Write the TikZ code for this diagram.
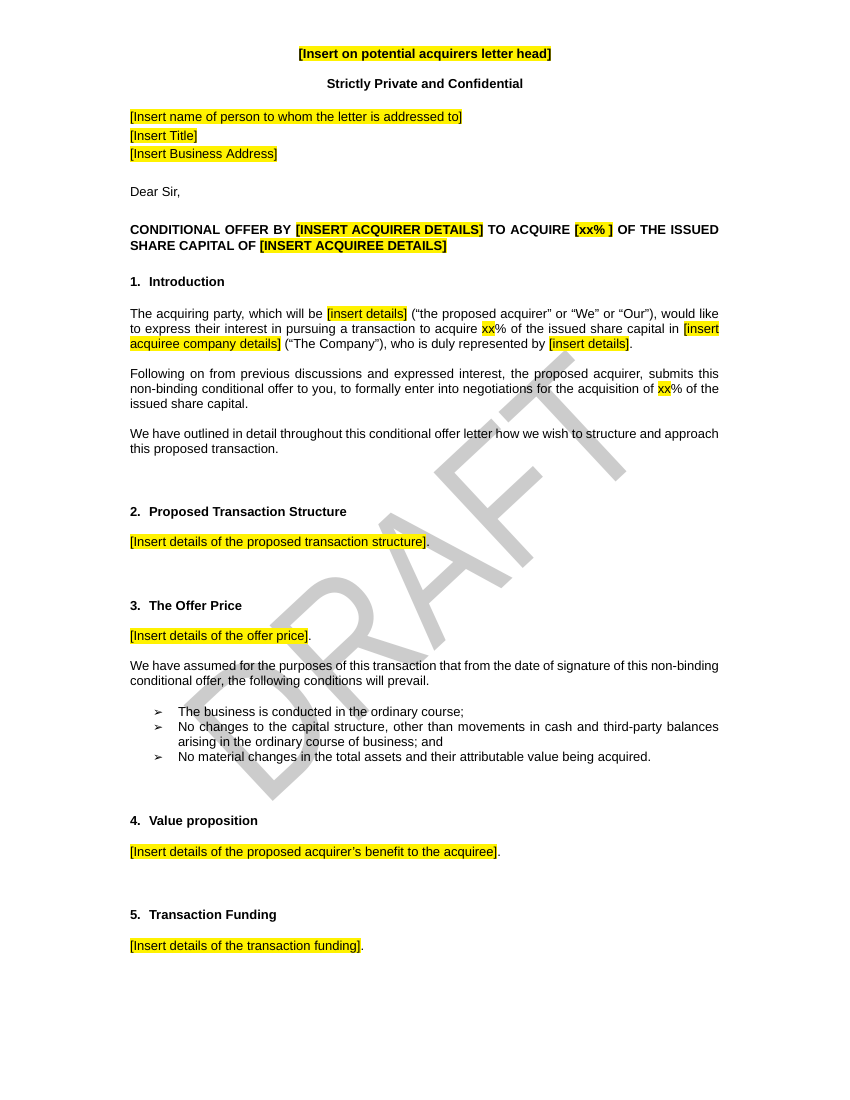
\documentclass[tikz,border=0pt]{standalone}
\usepackage{fontspec}
\setmainfont{Liberation Sans}
\newfontfamily\dejavu{DejaVu Sans}
\newcommand{\hlx}[1]{{\setlength{\fboxsep}{0pt}\colorbox{yellow}{\rule[-2.8pt]{0pt}{15.3pt}#1}}}
\newcommand{\jl}[1]{\makebox[589pt][s]{#1}}
\newcommand{\jlb}[1]{\makebox[541pt][s]{#1}}
\newcommand{\bul}{{\dejavu\fontsize{12}{12}\selectfont ➢}}
\tikzset{
  txt/.style={anchor=base west, inner sep=0pt, outer sep=0pt, font=\fontsize{13}{15}\selectfont},
  hd/.style={anchor=base west, inner sep=0pt, outer sep=0pt, font=\fontsize{13}{15}\selectfont\bfseries},
  ctr/.style={anchor=base, inner sep=0pt, outer sep=0pt, font=\fontsize{13}{15}\selectfont\bfseries},
  wmark/.style={anchor=base west, inner sep=0pt, outer sep=0pt, text=black!20, font=\fontsize{190}{190}\selectfont}
}
\begin{document}
\begin{tikzpicture}[x=1pt,y=-1pt]
\useasboundingbox (0,0) rectangle (850,1100);
\fill[white] (0,0) rectangle (850,1100);
% watermark
\node[wmark, rotate=43, xscale=0.85] (wm) at (263.9,810.5) {DRAFT};
% header
\node[ctr] (t1) at (425,58) {\hlx{[Insert on potential acquirers letter head]}};
\node[ctr] (t2) at (425,88) {Strictly Private and Confidential};
\node[txt] (a1) at (130,121) {\hlx{[Insert name of person to whom the letter is addressed to]}};
\node[txt] (a2) at (130,140) {\hlx{[Insert Title]}};
\node[txt] (a3) at (130,158.7) {\hlx{[Insert Business Address]}};
\node[txt] (dear) at (130,196.7) {Dear Sir,};
\node[hd] (c1) at (130,234.3) {\jl{CONDITIONAL OFFER BY \hlx{[INSERT ACQUIRER DETAILS]} TO ACQUIRE \hlx{[xx\% ]} OF THE ISSUED}};
\node[hd] (c2) at (130,250) {SHARE CAPITAL OF \hlx{[INSERT ACQUIREE DETAILS]}};
% 1
\node[hd] (n1) at (130,286) {1.};
\node[hd] (h1) at (149,286) {Introduction};
\node[txt] (p11) at (130,318.3) {\jl{The acquiring party, which will be \hlx{[insert details]} (“the proposed acquirer” or “We” or “Our”), would like}};
\node[txt] (p12) at (130,333.3) {\jl{to express their interest in pursuing a transaction to acquire \hlx{xx}\% of the issued share capital in \hlx{[insert}}};
\node[txt] (p13) at (130,348.3) {\hlx{acquiree company details]} (“The Company”), who is duly represented by \hlx{[insert details]}.};
\node[txt] (p21) at (130,378.3) {\jl{Following on from previous discussions and expressed interest, the proposed acquirer, submits this}};
\node[txt] (p22) at (130,393.3) {\jl{non-binding conditional offer to you, to formally enter into negotiations for the acquisition of \hlx{xx}\% of the}};
\node[txt] (p23) at (130,408.3) {issued share capital.};
\node[txt] (p31) at (130,438.3) {\jl{We have outlined in detail throughout this conditional offer letter how we wish to structure and approach}};
\node[txt] (p32) at (130,453.3) {this proposed transaction.};
% 2
\node[hd] (n2) at (130,516) {2.};
\node[hd] (h2) at (149,516) {Proposed Transaction Structure};
\node[txt] (s2) at (130,546) {\hlx{[Insert details of the proposed transaction structure]}.};
% 3
\node[hd] (n3) at (130,610) {3.};
\node[hd] (h3) at (149,610) {The Offer Price};
\node[txt] (s3) at (130,640.7) {\hlx{[Insert details of the offer price]}.};
\node[txt] (p41) at (130,670) {\jl{We have assumed for the purposes of this transaction that from the date of signature of this non-binding}};
\node[txt] (p42) at (130,685) {conditional offer, the following conditions will prevail.};
\node[txt] (b1m) at (153,716.5) {\bul};
\node[txt] (b1) at (178,716.5) {The business is conducted in the ordinary course;};
\node[txt] (b2m) at (153,731.5) {\bul};
\node[txt] (b2) at (178,731.5) {\jlb{No changes to the capital structure, other than movements in cash and third-party balances}};
\node[txt] (b2b) at (178,746.5) {arising in the ordinary course of business; and};
\node[txt] (b3m) at (153,761.5) {\bul};
\node[txt] (b3) at (178,761.5) {No material changes in the total assets and their attributable value being acquired.};
% 4
\node[hd] (n4) at (130,825) {4.};
\node[hd] (h4) at (149,825) {Value proposition};
\node[txt] (s4) at (130,856) {\hlx{[Insert details of the proposed acquirer’s benefit to the acquiree]}.};
% 5
\node[hd] (n5) at (130,919.5) {5.};
\node[hd] (h5) at (149,919.5) {Transaction Funding};
\node[txt] (s5) at (130,950) {\hlx{[Insert details of the transaction funding]}.};
\end{tikzpicture}
\end{document}
